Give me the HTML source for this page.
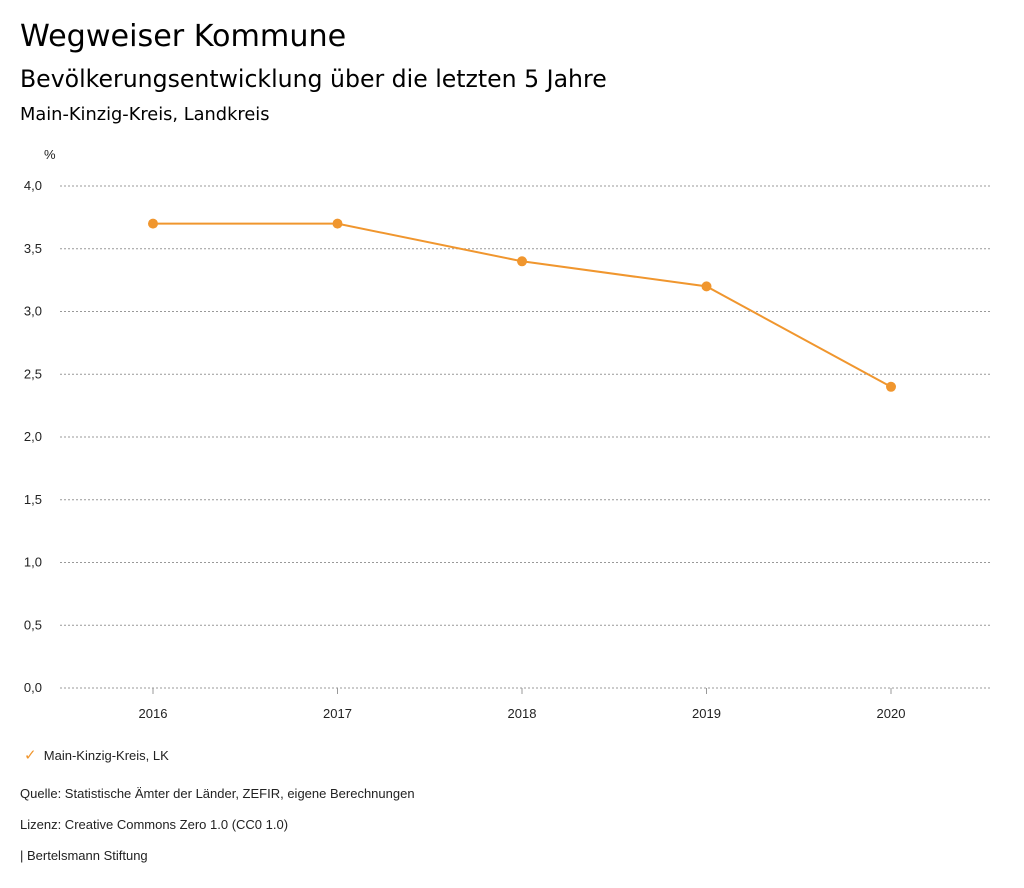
<!DOCTYPE html>
<html><head><meta charset="utf-8"><style>
body{margin:0;background:#fff;width:1024px;height:888px;overflow:hidden;font-family:"Liberation Sans",sans-serif;}
.t{position:absolute;left:20px;font-family:"DejaVu Sans",sans-serif;color:#000;white-space:nowrap;}
.s{position:absolute;left:20px;font-size:13px;color:#222;white-space:nowrap;}
</style></head><body>
<div class="t" style="top:19px;font-size:30.2px;">Wegweiser Kommune</div>
<div class="t" style="top:65px;font-size:23.6px;">Bevölkerungsentwicklung über die letzten 5 Jahre</div>
<div class="t" style="top:104px;font-size:17.8px;">Main-Kinzig-Kreis, Landkreis</div>
<svg id="chart" width="1024" height="740" style="position:absolute;left:0;top:0"></svg>
<div class="s" style="top:746px;left:24px;"><span style="color:#f0962e;font-size:15px;">✓</span>&nbsp;&nbsp;Main-Kinzig-Kreis, LK</div>
<div class="s" style="top:786px;">Quelle: Statistische Ämter der Länder, ZEFIR, eigene Berechnungen</div>
<div class="s" style="top:817px;">Lizenz: Creative Commons Zero 1.0 (CC0 1.0)</div>
<div class="s" style="top:848px;">| Bertelsmann Stiftung</div>
<script>
const years=["2016","2017","2018","2019","2020"];
const values=[3.7,3.7,3.4,3.2,2.4];
const yTicks=[0,0.5,1,1.5,2,2.5,3,3.5,4];
const NS="http://www.w3.org/2000/svg";
const svg=document.getElementById('chart');
const x=i=>153+i*184.5;
const y=v=>688-v*125.5;
function mk(t,a){const e=document.createElementNS(NS,t);for(const k in a)e.setAttribute(k,a[k]);svg.appendChild(e);return e;}
yTicks.forEach(v=>{
 const l=mk('line',{x1:60,x2:991,y1:y(v),y2:y(v),stroke:'#999','stroke-dasharray':'2,2','stroke-width':1});
 
 
 const t=mk('text',{x:42,y:y(v)+4,'text-anchor':'end','font-size':13,fill:'#222'});
 t.textContent=v.toFixed(1).replace('.',',');
 
 
});
const u=mk('text',{x:44,y:159,'font-size':13,fill:'#222'});u.textContent='%';


years.forEach((yr,i)=>{
 const k=mk('line',{x1:x(i),x2:x(i),y1:688,y2:694,stroke:'#999'});
 
 
 const t=mk('text',{x:x(i),y:718,'text-anchor':'middle','font-size':13,fill:'#222'});
 t.textContent=yr;
 
 
});
const p=mk('polyline',{points:values.map((v,i)=>x(i)+','+y(v)).join(' '),fill:'none',stroke:'#f0962e','stroke-width':2});


values.forEach((v,i)=>{
 const c=mk('circle',{cx:x(i),cy:y(v),r:5,fill:'#f0962e'});
 
 
});
</script>
</body></html>
